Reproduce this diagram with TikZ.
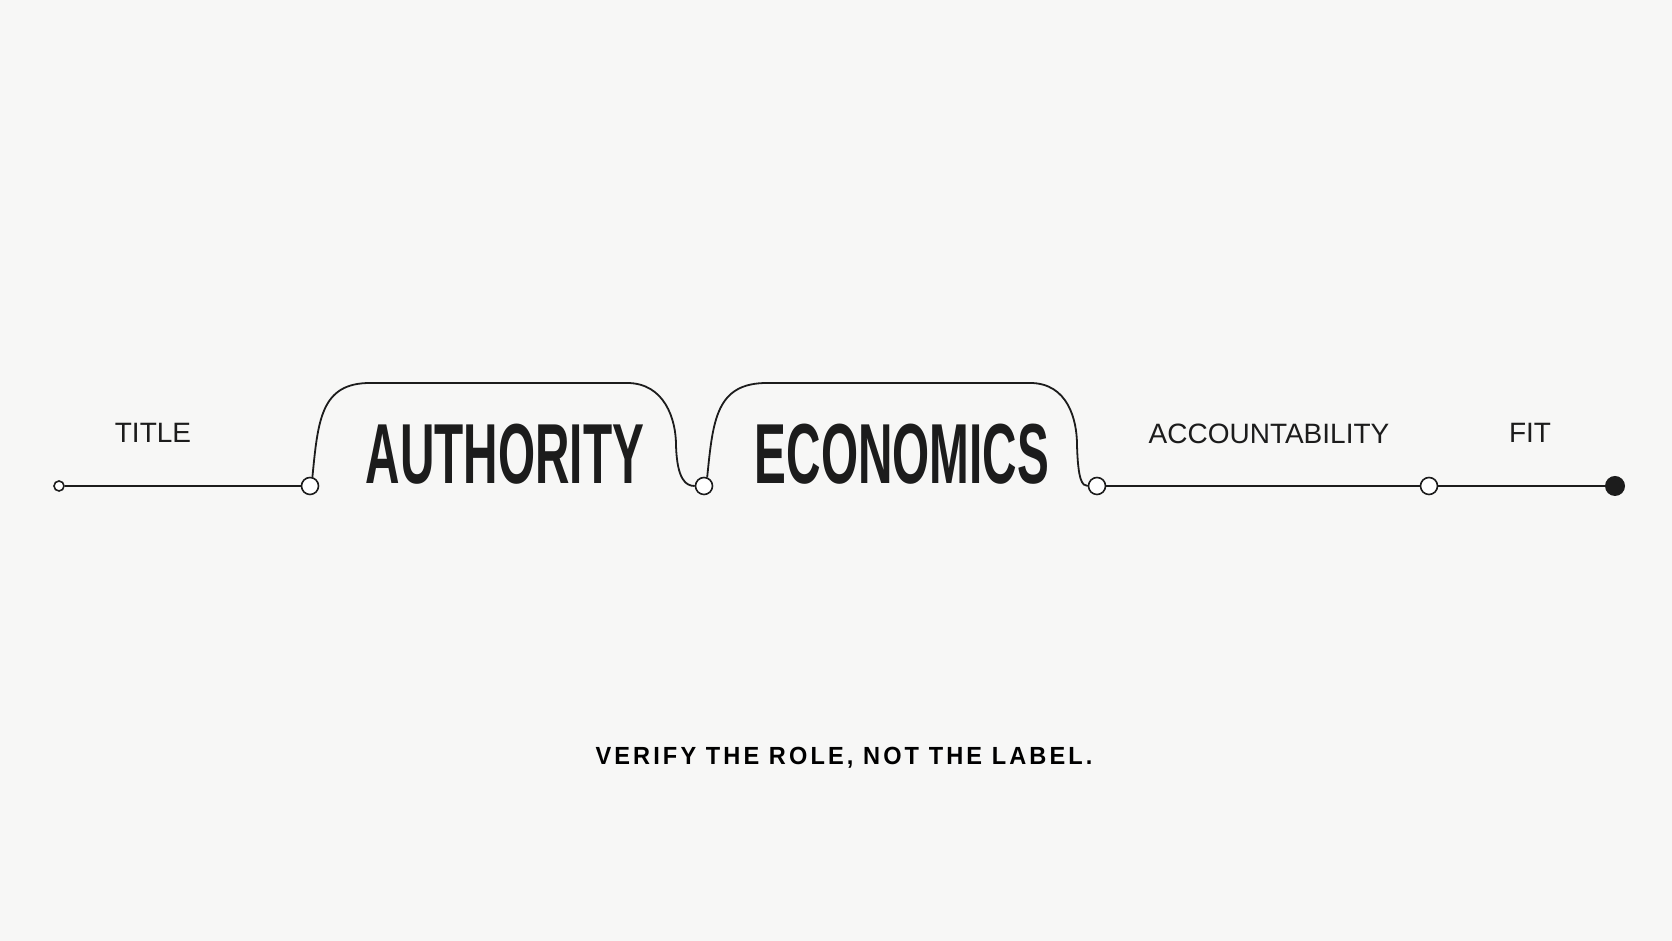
\documentclass[tikz,border=0pt]{standalone}
\usepackage{fontspec}
\setmainfont{Liberation Sans}
\newfontfamily\bigfont{Liberation Sans}[FakeStretch=0.56]
\newfontfamily\tagfont{Liberation Sans}[FakeStretch=0.95, LetterSpace=12.6]
\definecolor{paper}{HTML}{F7F7F6}
\definecolor{ink}{HTML}{1C1C1C}

\begin{document}
\begin{tikzpicture}[x=0.5pt, y=0.5pt,
		dot/.style={circle, draw=ink, fill=white, line width=0.8pt, inner sep=0pt, minimum size=8.5pt},
		startdot/.style={dot, minimum size=5pt},
		enddot/.style={circle, fill=ink, inner sep=0pt, minimum size=10pt},
		wire/.style={draw=ink, line width=0.9pt},
		small/.style={anchor=base, inner sep=0pt, text=ink, font=\fontsize{14}{16}\selectfont},
		big/.style={anchor=base, inner sep=0pt, text=ink, font=\bigfont\bfseries\fontsize{42.6}{48}\selectfont}]
					\fill[paper] (0, 0) rectangle (1672, 941);
					\useasboundingbox (0, 0) rectangle (1672, 941);
					% stops on the line
					\node[startdot] (start) at (59, 455) {};
					\node[dot] (kA) at (310, 455) {};
					\node[dot] (kB) at (704, 455) {};
					\node[dot] (kC) at (1097, 455) {};
					\node[dot] (kD) at (1429, 455) {};
					\node[enddot] (stop) at (1615, 455) {};
					% labels
					\node[small] (title) at (153, 498) {TITLE};
					\node[big] (auth) at (505, 457) {AUTHORITY};
					\node[big] (econ) at (902, 457) {ECONOMICS};
					\node[small] (acct) at (1269, 497) {ACCOUNTABILITY};
					\node[small] (fit) at (1530, 498) {FIT};
					\node[anchor=base, inner sep=0pt, text=black, font=\tagfont\bfseries\fontsize{12.4}{15}\selectfont] (motto) at (844, 176) {VERIFY THE ROLE, NOT THE LABEL.};
					% the line
					\draw[wire] (start) -- (kA);
					\draw[wire] (kA.75) .. controls (318, 521) and (321, 558) .. (370, 558) -- (627, 558)
						.. controls (665, 558) and (676, 521) .. (676, 496) .. controls (677, 461) and (686, 455) .. (kB.west);
					\draw[wire] (kB.70) .. controls (713, 521) and (716, 558) .. (767, 558) -- (1030, 558)
						.. controls (1068, 558) and (1077, 521) .. (1077, 496) .. controls (1078, 461) and (1082, 455) .. (kC.west);
					\draw[wire] (kC) -- (kD);
					\draw[wire] (kD) -- (stop);
			\end{tikzpicture}
\end{document}
